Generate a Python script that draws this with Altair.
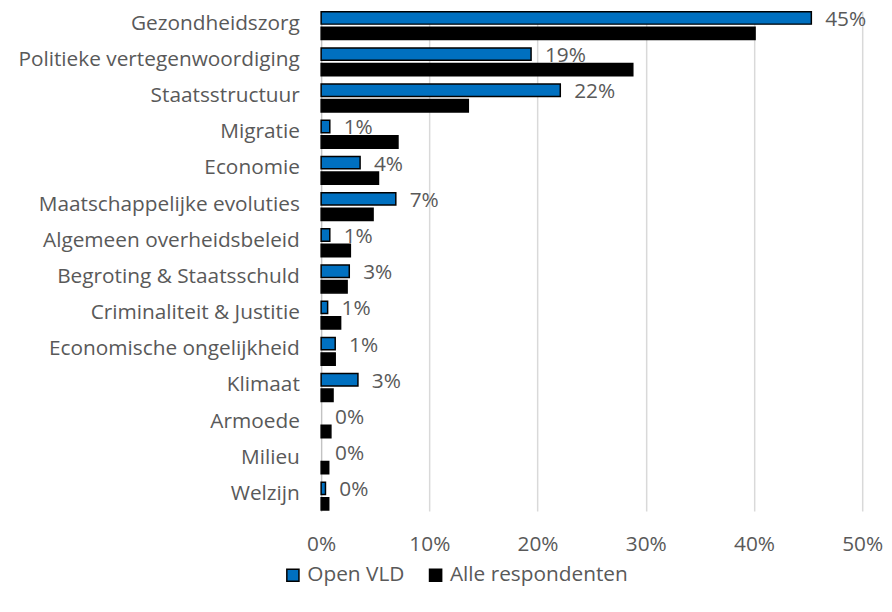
import altair as alt
import pandas as pd

categories = ["Gezondheidszorg", "Politieke vertegenwoordiging", "Staatsstructuur", "Migratie",
              "Economie", "Maatschappelijke evoluties", "Algemeen overheidsbeleid",
              "Begroting & Staatsschuld", "Criminaliteit & Justitie", "Economische ongelijkheid",
              "Klimaat", "Armoede", "Milieu", "Welzijn"]
open_vld = [45.3, 19.4, 22.1, 0.8, 3.6, 6.9, 0.8, 2.6, 0.6, 1.3, 3.4, 0.0, 0.0, 0.4]
alle = [40.1, 28.8, 13.6, 7.1, 5.3, 4.8, 2.7, 2.4, 1.8, 1.3, 1.1, 0.9, 0.7, 0.7]
series = ["Open VLD", "Alle respondenten"]

rows = []
for c, a, b in zip(categories, open_vld, alle):
    rows.append({"cat": c, "series": series[0], "value": a / 100})
    rows.append({"cat": c, "series": series[1], "value": b / 100})
df = pd.DataFrame(rows)

FONT = "Open Sans"
GREY = "#595959"
FS = 21

y_enc = alt.Y("cat:N", sort=categories, title=None,
              scale=alt.Scale(paddingInner=0.23, paddingOuter=0.03),
              axis=alt.Axis(ticks=False, domain=True, domainColor="#bfbfbf", labelPadding=22,
                            labelOffset=-2,
                            labelFontSize=FS, labelColor=GREY, labelFont=FONT, labelLimit=400))
yoff = alt.YOffset("series:N", sort=series, scale=alt.Scale(domain=series, paddingInner=0.2))

bars = alt.Chart(df).transform_filter(alt.datum.value > 0).mark_bar(strokeWidth=1.5).encode(
    x=alt.X("value:Q", title=None,
            scale=alt.Scale(domain=[0, 0.5], nice=False),
            axis=alt.Axis(format=".0%", values=[0, 0.1, 0.2, 0.3, 0.4, 0.5], grid=True,
                          gridColor="#d9d9d9", gridWidth=1.5, domain=False, ticks=False,
                          labelFlush=False,
                          labelPadding=23, labelFontSize=FS, labelColor=GREY, labelFont=FONT)),
    y=y_enc,
    yOffset=yoff,
    color=alt.Color("series:N", sort=series,
                    scale=alt.Scale(domain=series, range=["#0070C0", "#000000"]),
                    legend=alt.Legend(title=None, orient="none", legendX=-39, legendY=559,
                                      direction="horizontal", symbolType="square",
                                      symbolSize=150, symbolStrokeWidth=1.5,
                                      labelFontSize=FS, labelColor=GREY, labelFont=FONT,
                                      labelLimit=400,
                                      columnPadding=20, symbolOffset=0, labelOffset=4)),
    stroke=alt.Stroke("series:N", sort=series,
                      scale=alt.Scale(domain=series, range=["#000000", "#000000"]),
                      legend=None),
)

labels = alt.Chart(df).transform_filter(alt.datum.series == "Open VLD").mark_text(
    align="left", baseline="middle", dx=14, dy=2, fontSize=FS, color=GREY, font=FONT
).encode(
    x="value:Q",
    y=alt.Y("cat:N", sort=categories),
    yOffset=yoff,
    text=alt.Text("value:Q", format=".0%"),
)

chart = alt.layer(bars, labels).properties(
    width=546, height=505,
    autosize=alt.AutoSizeParams(type="none"),
    padding={"left": 316, "top": 0, "right": 22, "bottom": 83},
).configure_view(stroke=None)

chart.save("out.html", embed_options={"renderer": "svg", "actions": False})
